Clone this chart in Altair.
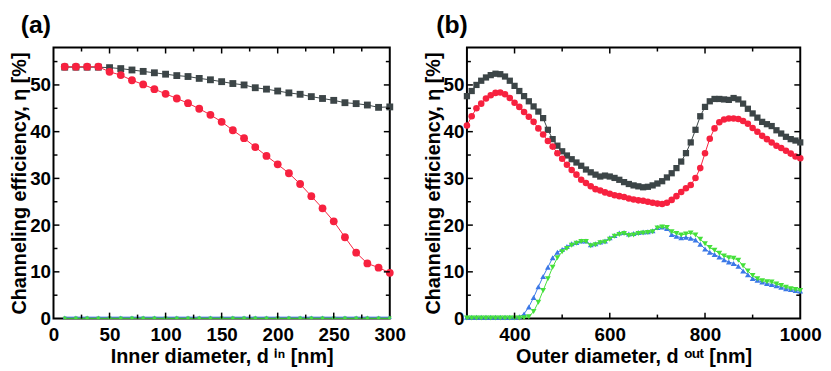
import altair as alt
import pandas as pd

FONT = "Liberation Sans"

# ---------------- panel (a) data ----------------
d_in = list(range(10, 301, 10))
a_gray = [53.8, 53.8, 53.8, 53.8, 53.7, 53.5, 53.2, 52.9, 52.6, 52.3,
          52.0, 51.8, 51.4, 51.1, 50.7, 50.3, 50.0, 49.4, 49.1, 48.7,
          48.3, 48.0, 47.5, 47.1, 46.7, 46.2, 46.0, 45.7, 45.2, 45.3]
a_red = [53.9, 53.9, 53.9, 53.9, 52.8, 52.1, 51.0, 50.1, 49.1, 48.1,
         47.1, 46.1, 44.9, 43.6, 42.1, 40.3, 38.6, 36.7, 34.8, 33.0,
         31.1, 28.8, 26.2, 23.6, 20.8, 17.4, 14.1, 11.8, 10.9, 9.8]
a_blue = [0.3] * 30
a_green = [0.05] * 30

# ---------------- panel (b) data ----------------
d_out = list(range(300, 1001, 10))
b_gray = [47.6, 48.7, 50.0, 50.9, 51.6, 52.1, 52.4, 52.3, 51.8, 50.9,
          49.8, 48.7, 47.6, 46.5, 45.4, 44.3, 42.9, 40.4, 38.4, 37.0,
          35.8, 34.9, 34.1, 33.4, 32.7, 31.9, 31.3, 30.8, 30.4, 30.6,
          30.4, 30.1, 29.7, 29.2, 28.8, 28.5, 28.3, 28.1, 28.2, 28.5,
          28.9, 29.4, 30.2, 31.1, 32.2, 33.6, 35.4, 37.7, 40.4, 43.3,
          45.3, 46.5, 47.0, 47.0, 46.9, 46.8, 47.2, 46.9, 46.0, 44.9,
          43.9, 43.0, 42.1, 41.6, 41.2, 40.3, 39.6, 38.9, 38.4, 38.1, 37.7]
b_red = [41.3, 43.3, 45.0, 46.0, 47.1, 47.8, 48.3, 48.4, 48.0, 47.2,
         46.2, 45.3, 44.2, 43.2, 42.1, 40.7, 39.4, 38.0, 36.8, 35.4,
         34.2, 32.9, 31.8, 30.8, 29.7, 29.0, 28.3, 27.7, 27.4, 27.0,
         26.7, 26.4, 26.2, 26.0, 25.7, 25.5, 25.3, 25.2, 25.0, 24.8,
         24.6, 24.5, 24.8, 25.4, 26.2, 27.1, 27.9, 28.6, 30.1, 32.2,
         35.4, 38.5, 40.7, 42.0, 42.6, 42.8, 42.8, 42.7, 42.3, 41.7,
         40.8, 40.0, 39.1, 38.4, 37.7, 37.0, 36.5, 35.9, 35.3, 34.7, 34.3]
b_blue = [0.3, 0.3, 0.3, 0.3, 0.3, 0.3, 0.3, 0.3, 0.3, 0.3,
          0.3, 0.4, 1.0, 2.5, 4.5, 6.8, 9.0, 11.0, 13.0, 14.2,
          14.8, 15.4, 16.0, 16.3, 16.6, 16.6, 15.8, 16.0, 16.4, 16.6,
          17.3, 17.8, 18.3, 18.4, 18.1, 18.2, 18.4, 18.5, 18.6, 18.8,
          19.5, 19.6, 19.3, 18.0, 17.6, 17.3, 17.4, 17.2, 16.8, 15.9,
          14.9, 14.2, 13.7, 13.2, 12.6, 12.1, 11.8, 11.2, 10.2, 9.4,
          8.6, 8.2, 7.8, 7.5, 7.3, 7.0, 6.7, 6.4, 6.2, 6.0, 5.9]
b_green = [0.1, 0.1, 0.1, 0.1, 0.1, 0.1, 0.1, 0.1, 0.1, 0.1,
           0.1, 0.1, 0.2, 0.4, 1.5, 3.5, 6.0, 8.5, 11.0, 13.0,
           14.3, 15.0, 15.7, 16.1, 16.5, 16.5, 15.6, 15.8, 16.2, 16.4,
           17.0, 17.6, 18.0, 18.2, 17.8, 17.9, 18.2, 18.3, 18.4, 18.6,
           19.4, 19.6, 19.5, 18.6, 18.2, 17.9, 18.1, 18.3, 17.9, 17.0,
           16.0, 15.2, 14.6, 14.0, 13.4, 13.0, 12.9, 12.5, 11.3, 10.2,
           9.2, 8.5, 8.1, 7.9, 7.8, 7.4, 7.1, 6.7, 6.4, 6.2, 6.0]

# ---------------- ticks / labels ----------------
a_x_labels = [0, 50, 100, 150, 200, 250, 300]
a_x_major = [50, 100, 150, 200, 250]
a_x_minor = [25, 75, 125, 175, 225, 275]
b_x_labels = [400, 600, 800, 1000]
b_x_major = [400, 600, 800]
b_x_minor = [500, 700, 900]
y_labels = [0, 10, 20, 30, 40, 50]
y_major = [10, 20, 30, 40, 50]
y_minor = [5, 15, 25, 35, 45, 55]

COL_GRAY = "#3c4547"
COL_RED = "#f7213f"
COL_BLUE = "#3b78e7"
COL_GREEN = "#45e03a"

H = 274
Y_DOM = [0, 58]
Y_TITLE = "Channeling efficiency, η [%]"


def panel(xs, series, xdom, xlabels, xmaj, xmin, xtitle, title, sizes, tdx, W):
    xscale = alt.Scale(domain=xdom, nice=False, zero=False)
    yscale = alt.Scale(domain=Y_DOM, nice=False)
    xaxis = alt.Axis(values=xlabels, title=xtitle, ticks=False, tickSize=0, format="d",
                     domain=False, grid=False, labelFlush=False, labelOverlap=False,
                     labelBound=False, labelPadding=7, titlePadding=2)
    yaxis = alt.Axis(values=y_labels, title=Y_TITLE, ticks=False, tickSize=0, format="d",
                     domain=False, grid=False, labelPadding=3, titlePadding=0)
    layers = []
    for (vals, color, shape), size in zip(series, sizes):
        df = pd.DataFrame({"d": xs, "eta": vals})
        base = alt.Chart(df).encode(
            x=alt.X("d:Q", scale=xscale, axis=xaxis, title=xtitle),
            y=alt.Y("eta:Q", scale=yscale, axis=yaxis, title=Y_TITLE))
        layers.append(base.mark_line(color=color, strokeWidth=1))
        layers.append(base.mark_point(shape=shape, filled=True, color=color,
                                      size=size, opacity=1))
    # inward ticks on all four sides
    for vals, ln in ((xmaj, 6), (xmin, 4)):
        df = pd.DataFrame({"d": vals})
        r = alt.Chart(df).mark_rule(color="black", strokeWidth=1.5)
        xe = alt.X("d:Q", scale=xscale, axis=xaxis, title=xtitle)
        layers.append(r.encode(x=xe, y=alt.value(H), y2=alt.value(H - ln)))
        layers.append(r.encode(x=xe, y=alt.value(0), y2=alt.value(ln)))
    for vals, ln in ((y_major, 6), (y_minor, 4)):
        df = pd.DataFrame({"eta": vals})
        r = alt.Chart(df).mark_rule(color="black", strokeWidth=1.5)
        ye = alt.Y("eta:Q", scale=yscale, axis=yaxis, title=Y_TITLE)
        layers.append(r.encode(y=ye, x=alt.value(0), x2=alt.value(ln)))
        layers.append(r.encode(y=ye, x=alt.value(W - ln), x2=alt.value(W)))
    return alt.layer(*layers).properties(
        width=W, height=H,
        title=alt.TitleParams(text=title, anchor="start", frame="group", dx=tdx,
                              offset=9, fontSize=25, fontWeight="bold", font=FONT,
                              color="black"))


pa = panel(d_in,
           [(a_gray, COL_GRAY, "square"), (a_red, COL_RED, "circle"),
            (a_blue, COL_BLUE, "triangle-up"), (a_green, COL_GREEN, "triangle-down")],
           [0, 300], a_x_labels, a_x_major, a_x_minor,
           "Inner diameter, d ⁱⁿ [nm]", "(a)", [48, 62, 16, 16], -33, 340)
pb = panel(d_out,
           [(b_gray, COL_GRAY, "square"), (b_red, COL_RED, "circle"),
            (b_blue, COL_BLUE, "triangle-up"), (b_green, COL_GREEN, "triangle-down")],
           [300, 1000], b_x_labels, b_x_major, b_x_minor,
           "Outer diameter, d ᵒᵘᵗ [nm]", "(b)", [40, 44, 34, 34], -31, 337)

chart = alt.hconcat(pa, pb, spacing=78, bounds="flush",
                    padding={"left": 0, "top": 2, "right": 0, "bottom": 0}).configure_view(
    stroke="black", strokeWidth=2).configure_axis(
    labelFont=FONT, labelFontSize=19, labelFontWeight="bold", labelColor="black",
    titleFont=FONT, titleFontSize=20, titleFontWeight="bold", titleColor="black")

chart.save("out.html", embed_options={"renderer": "svg", "actions": False})
